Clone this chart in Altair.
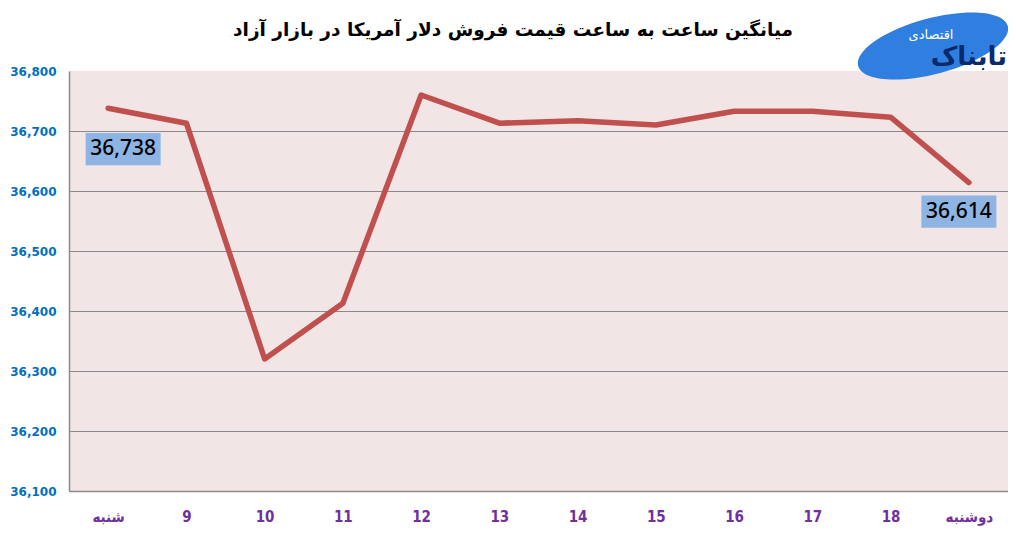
import altair as alt
import pandas as pd

days = ["شنبه", "9", "10", "11", "12", "13", "14", "15", "16", "17", "18", "دوشنبه"]
prices = [36738, 36713, 36320, 36413, 36760, 36713, 36717, 36710, 36733, 36733, 36723, 36614]
y_ticks = [36100, 36200, 36300, 36400, 36500, 36600, 36700, 36800]
title_text = "میانگین ساعت به ساعت قیمت فروش دلار آمریکا در بازار آزاد"
logo_main = "تابناک"
logo_sub = "اقتصادی"

df = pd.DataFrame({"day": days, "price": prices, "idx": list(range(len(days)))})

x_enc = alt.X("day:N", sort=days, title=None,
              scale=alt.Scale(type="point", padding=0.5),
              axis=alt.Axis(labelAngle=0, labelColor="#7030A0", labelFontWeight="bold",
                            labelFontSize=15, labelFont="DejaVu Sans Condensed", ticks=False,
                            labelPadding=18, domainColor="#8a8a8a", domainWidth=1.5, grid=False))
y_enc = alt.Y("price:Q", title=None,
              scale=alt.Scale(domain=[36100, 36800], nice=False, zero=False),
              axis=alt.Axis(values=y_ticks, format=",d", labelColor="#0070C0",
                            labelFontWeight="bold", labelFontSize=12, labelFont="DejaVu Sans",
                            ticks=False, labelPadding=13, domainColor="#8a8a8a", domainWidth=1.5,
                            gridColor={"condition": {"test": "datum.value >= 36800", "value": "transparent"},
                                       "value": "#8a8a8a"},
                            gridWidth=1))

base = alt.Chart(df)

line = base.mark_line(color="#C0504D", strokeWidth=5.5, strokeCap="round", strokeJoin="round").encode(
    x=x_enc, y=y_enc)

box_shape = "M-1,-0.43L1,-0.43L1,0.43L-1,0.43Z"

first = base.transform_filter("datum.idx == 0")
last = base.transform_filter("datum.idx == 11")

box1 = first.mark_point(shape=box_shape, size=5625, filled=True, fill="#8DB4E2", opacity=1,
                        strokeWidth=0, xOffset=15, yOffset=41).encode(x=x_enc, y=y_enc)
box2 = last.mark_point(shape=box_shape, size=5625, filled=True, fill="#8DB4E2", opacity=1,
                       strokeWidth=0, xOffset=-10, yOffset=29).encode(x=x_enc, y=y_enc)
txt1 = first.mark_text(font="Noto Sans", fontSize=21, fontWeight=500, color="black", dx=15, dy=41,
                       baseline="middle").encode(x=x_enc, y=y_enc,
                                                 text=alt.Text("price:Q", format=","))
txt2 = last.mark_text(font="Noto Sans", fontSize=21, fontWeight=500, color="black", dx=-10, dy=29,
                      baseline="middle").encode(x=x_enc, y=y_enc,
                                                text=alt.Text("price:Q", format=","))

logo_df = pd.DataFrame({"main": [logo_main], "sub": [logo_sub], "title": [title_text]})
ellipse = "M-1,0A1,0.36 0 1,1 1,0A1,0.36 0 1,1 -1,0Z"
logo_bg = alt.Chart(logo_df).mark_point(shape=ellipse, size=24000, filled=True, fill="#2E7FE0",
                                        opacity=1, strokeWidth=0, angle=345).encode(
    x=alt.value(864), y=alt.value(-25))
logo_t1 = alt.Chart(logo_df).mark_text(font="DejaVu Sans", fontSize=26, fontWeight="bold",
                                       color="#0B2A6B", align="right").encode(
    x=alt.value(938), y=alt.value(-14), text="main:N")
logo_t2 = alt.Chart(logo_df).mark_text(font="DejaVu Sans", fontSize=13, color="white",
                                       align="center").encode(
    x=alt.value(862), y=alt.value(-36), text="sub:N")
title_mark = alt.Chart(logo_df).mark_text(font="DejaVu Sans", fontSize=18.5, fontWeight="bold",
                                          color="black", align="center", baseline="middle").encode(
    x=alt.value(444), y=alt.value(-41), text="title:N")

chart = alt.layer(line, box1, box2, txt1, txt2, logo_bg, logo_t1, logo_t2, title_mark).properties(
    width=939, height=420,
    padding={"left": 61, "top": 63, "right": 0, "bottom": 35},
    autosize=alt.AutoSizeParams(type="none"),
    background="white",
).configure_view(fill="#F2E5E5", stroke=None)

chart.save("out.html", embed_options={"renderer": "svg", "actions": False})
